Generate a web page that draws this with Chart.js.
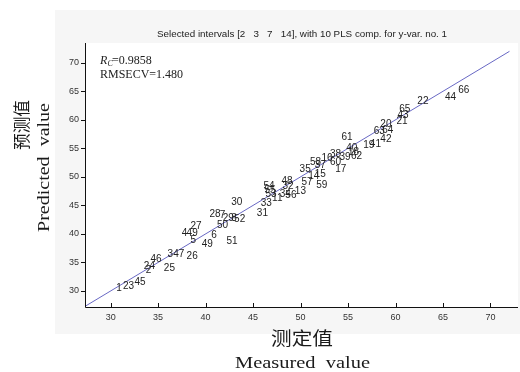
<!DOCTYPE html>
<html>
<head>
<meta charset="utf-8">
<script src="https://cdn.jsdelivr.net/npm/chart.js@4.4.1/dist/chart.umd.min.js"></script>
<style>
  html, body { margin: 0; padding: 0; background: #fff; }
  #wrap { width: 520px; height: 372px; position: relative; }
</style>
</head>
<body>
<div id="wrap"><canvas id="c" width="520" height="372"></canvas></div>
<script>
// sample numbers, measured (x) and predicted (y) values
const sampleIds = ['1','23','45','2','24','46','25','3','47','26','5','4','49','27','49','6','50',
  '28','7','29','8','52','51','30','31','33','54','55','53','11','48','32','34','56','13',
  '35','58','37','16','57','14','15','59','38','60','39','17','40','18','62','61','19','41',
  '42','63','64','20','21','43','65','22','44','66'];
const measured = [30.6,31.3,32.5,33.7,33.5,34.2,35.6,36.0,36.6,38.0,38.4,37.5,38.0,38.4,39.6,40.6,41.2,
  40.4,41.5,41.8,42.7,43.0,42.2,42.7,45.4,45.8,46.1,46.2,46.3,47.0,48.0,48.1,47.8,48.4,49.4,
  49.9,51.0,51.5,52.2,50.1,50.8,51.5,51.65,53.1,53.1,54.1,53.65,54.8,55.0,55.3,54.3,56.6,57.3,
  58.4,57.7,58.6,58.4,60.1,60.2,60.4,62.3,65.2,66.6];
const predicted = [30.4,30.8,31.5,33.6,34.3,35.6,34.0,36.4,36.4,36.0,38.9,40.2,40.2,41.3,38.2,39.7,41.5,
  43.5,43.3,42.7,42.7,42.5,38.8,45.6,43.6,45.4,48.4,47.6,46.9,46.2,49.3,48.3,46.9,46.8,47.5,
  51.4,52.6,52.0,53.2,49.1,50.1,50.4,48.6,53.9,52.6,53.5,51.4,55.0,54.3,53.6,57.0,55.5,55.7,
  56.6,58.0,58.1,59.3,59.8,60.8,61.9,63.3,63.9,65.1];
const fitLine = [27.2, 72];
const xTicks = [30, 35, 40, 45, 50, 55, 60, 65, 70];
const yTicks = [30, 35, 40, 45, 50, 55, 60, 65, 70];
const titleText = 'Selected intervals [2   3   7   14], with 10 PLS comp. for y-var. no. 1';

const pts = measured.map((v, i) => ({ x: v, y: predicted[i] }));

// draw text stretched/shrunk to a given width
function fitText(ctx, txt, x, y, size, family, width) {
  ctx.font = size + 'px ' + family;
  const w = ctx.measureText(txt).width;
  ctx.save();
  ctx.translate(x, y);
  ctx.scale(width / w, 1);
  ctx.fillText(txt, 0, 0);
  ctx.restore();
}

const decor = {
  id: 'decor',
  beforeDraw(chart) {
    const ctx = chart.ctx, a = chart.chartArea;
    ctx.save();
    ctx.fillStyle = '#f6f6f6';
    ctx.fillRect(55, 10, 465, 324);
    ctx.fillStyle = '#fff';
    ctx.fillRect(a.left, a.top, a.right - a.left, a.bottom - a.top);
    ctx.restore();
  },
  afterDraw(chart) {
    const ctx = chart.ctx, a = chart.chartArea;
    const xs = chart.scales.x, ys = chart.scales.y;
    ctx.save();
    // axis lines
    ctx.strokeStyle = '#111';
    ctx.lineWidth = 1;
    ctx.beginPath();
    ctx.moveTo(a.left + 0.5, a.top);
    ctx.lineTo(a.left + 0.5, a.bottom + 0.5);
    ctx.lineTo(a.right, a.bottom + 0.5);
    ctx.stroke();
    // ticks
    ctx.beginPath();
    xTicks.forEach(v => {
      const px = Math.round(xs.getPixelForValue(v)) + 0.5;
      ctx.moveTo(px, a.bottom); ctx.lineTo(px, a.bottom - 4);
    });
    yTicks.forEach(v => {
      const py = Math.round(ys.getPixelForValue(v)) + 0.5;
      ctx.moveTo(a.left, py); ctx.lineTo(a.left - 4, py);
    });
    ctx.stroke();

    // sample number labels
    const meta = chart.getDatasetMeta(1);
    ctx.fillStyle = '#222';
    ctx.font = '10px "Liberation Sans", Arial, sans-serif';
    ctx.textAlign = 'left';
    ctx.textBaseline = 'middle';
    meta.data.forEach((el, i) => ctx.fillText(sampleIds[i], el.x, el.y));

    // title
    ctx.fillStyle = '#222';
    fitText(ctx, titleText, 157, 34, 9.5, '"Liberation Sans", Arial, sans-serif', 290);

    // statistics
    ctx.textAlign = 'left';
    ctx.font = 'italic 12px "Liberation Serif", "Times New Roman", serif';
    ctx.fillText('R', 100, 61);
    ctx.font = 'italic 8px "Liberation Serif", "Times New Roman", serif';
    ctx.fillText('C', 107.5, 64);
    ctx.font = '12px "Liberation Serif", "Times New Roman", serif';
    ctx.fillText('=0.9858', 112, 61);
    ctx.fillText('RMSECV=1.480', 100, 75);

    // axis titles
    ctx.fillStyle = '#1a1a1a';
    ctx.textAlign = 'left';
    fitText(ctx, '测定值', 271, 338, 18, '"Noto Sans CJK SC", serif', 62);
    fitText(ctx, 'Measured  value', 235, 364, 16.5, '"Liberation Serif", "Times New Roman", serif', 135);

    ctx.save();
    ctx.translate(22, 150);
    ctx.rotate(-Math.PI / 2);
    fitText(ctx, '预测值', 0, 0, 17, '"Noto Sans CJK SC", serif', 50);
    ctx.restore();
    ctx.save();
    ctx.translate(45, 232);
    ctx.rotate(-Math.PI / 2);
    fitText(ctx, 'Predicted  value', 0, 0, 16.5, '"Liberation Serif", "Times New Roman", serif', 129);
    ctx.restore();
    ctx.restore();
  }
};

new Chart(document.getElementById('c'), {
  type: 'scatter',
  data: {
    datasets: [
      {
        type: 'line',
        data: fitLine.map(v => ({ x: v, y: v })),
        borderColor: '#6868c4',
        borderWidth: 1,
        pointRadius: 0,
        fill: false
      },
      {
        data: pts,
        pointRadius: 0,
        pointHoverRadius: 0
      }
    ]
  },
  options: {
    responsive: false,
    animation: false,
    events: [],
    layout: { padding: { left: 0, right: 2, top: 43, bottom: 0 } },
    plugins: { legend: { display: false }, tooltip: { enabled: false }, title: { display: false } },
    scales: {
      x: {
        type: 'linear',
        min: 27.3,
        max: 72.9,
        afterBuildTicks: s => { s.ticks = xTicks.map(v => ({ value: v })); },
        afterFit: s => { s.height = 65; },
        grid: { display: false, drawTicks: false },
        border: { display: false },
        ticks: { padding: 5, color: '#333', font: { family: '"Liberation Sans", Arial, sans-serif', size: 9 } }
      },
      y: {
        type: 'linear',
        min: 27.19,
        max: 73.46,
        afterBuildTicks: s => { s.ticks = yTicks.map(v => ({ value: v })); },
        afterFit: s => { s.width = 85; },
        grid: { display: false, drawTicks: false },
        border: { display: false },
        ticks: { padding: 6, color: '#333', font: { family: '"Liberation Sans", Arial, sans-serif', size: 9 } }
      }
    }
  },
  plugins: [decor]
});
</script>
</body>
</html>
